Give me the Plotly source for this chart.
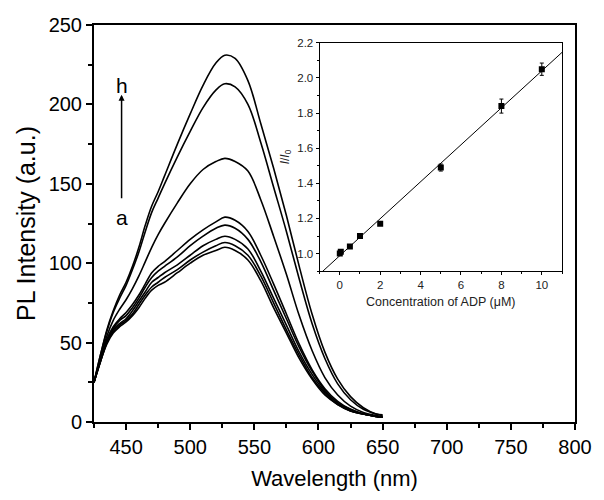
import numpy as np
import plotly.graph_objects as go

wavelength = [425, 430, 435, 440, 445, 450, 455, 460, 465, 470, 475, 480, 490, 500, 510,
              520, 527, 535, 545, 555, 565, 575, 585, 595, 605, 615, 625, 635, 645, 650]

spec_a = [25, 38, 49, 56, 60, 63, 67, 72, 78, 83, 86, 88, 94, 100, 105, 108, 110, 108, 102, 89, 72, 56, 40, 27, 17, 11, 7, 5, 3.5, 3]
spec_b = [25, 38, 50, 57, 61, 64, 68, 74, 80, 85, 88, 91, 96, 102, 107, 111, 113, 111, 105, 92, 75, 58, 42, 28, 18, 11, 7, 5, 3.5, 3]
spec_c = [25, 38, 50, 58, 62, 65, 70, 76, 82, 88, 91, 94, 99, 105, 111, 115, 117, 115, 109, 95, 78, 61, 44, 30, 19, 12, 7, 5, 3.5, 3]
spec_d = [25, 39, 51, 59, 64, 67, 72, 78, 85, 91, 95, 98, 104, 111, 117, 122, 124, 122, 115, 101, 83, 65, 47, 32, 20, 12, 8, 5, 3.5, 3]
spec_e = [25, 39, 52, 60, 65, 69, 74, 80, 87, 94, 98, 101, 108, 115, 121, 126, 129, 127, 120, 105, 87, 68, 49, 33, 21, 13, 8, 5, 3.5, 3]
spec_f = [25, 40, 54, 64, 71, 77, 84, 92, 101, 110, 118, 125, 138, 150, 159, 164, 166, 164, 158, 140, 117, 93, 67, 45, 28, 17, 10, 6, 4, 3.5]
spec_g = [25, 42, 57, 69, 78, 86, 96, 107, 120, 132, 141, 150, 167, 183, 198, 209, 213, 211, 200, 176, 148, 120, 90, 62, 40, 24, 14, 8, 5, 4]
spec_h = [25, 42, 58, 70, 80, 88, 98, 110, 124, 136, 145, 155, 175, 194, 212, 226, 231, 229, 215, 188, 160, 130, 98, 68, 44, 27, 16, 9, 5, 4.5]
spectra = [spec_a, spec_b, spec_c, spec_d, spec_e, spec_f, spec_g, spec_h]

conc = [0, 0.05, 0.5, 1, 2, 5, 8, 10]
ratio = [1.00, 1.01, 1.04, 1.10, 1.17, 1.49, 1.84, 2.05]
ratio_err = [0.01, 0.01, 0.01, 0.01, 0.01, 0.02, 0.04, 0.035]

main_xticks = [450, 500, 550, 600, 650, 700, 750, 800]
main_yticks = [0, 50, 100, 150, 200, 250]
inset_xticks = [0, 2, 4, 6, 8, 10]
inset_yticks = [1.0, 1.2, 1.4, 1.6, 1.8, 2.0, 2.2]

FONT = "Liberation Sans, Arial, sans-serif"

fig = go.Figure()
for s in spectra:
    fig.add_trace(go.Scatter(x=wavelength, y=s, mode="lines", line=dict(color="black", width=1.6, shape="spline"),
                             showlegend=False, hoverinfo="skip"))

slope, intercept = np.polyfit(conc, ratio, 1)
fit_x = [-1, 11]
fit_y = [slope * v + intercept for v in fit_x]
fig.add_trace(go.Scatter(x=fit_x, y=fit_y, mode="lines", line=dict(color="black", width=1),
                         xaxis="x2", yaxis="y2", showlegend=False))
fig.add_trace(go.Scatter(x=conc, y=ratio, mode="markers",
                         marker=dict(symbol="square", size=6, color="black"),
                         error_y=dict(type="data", array=ratio_err, color="black", thickness=1, width=2),
                         xaxis="x2", yaxis="y2", showlegend=False))

axis_common = dict(showgrid=False, zeroline=False, showline=True, linecolor="black", mirror=True,
                   ticks="outside", tickcolor="black")

fig.update_layout(
    width=604, height=500,
    margin=dict(l=94, r=24, t=25, b=78),
    paper_bgcolor="white", plot_bgcolor="white",
    font=dict(family=FONT, color="black"),
    xaxis=dict(range=[425, 800], tickvals=main_xticks, linewidth=2, ticklen=6, tickwidth=1.5,
               minor=dict(dtick=25, ticks="outside", ticklen=4, tickcolor="black", tickwidth=1.5),
               tickfont=dict(size=20),
               title=dict(text="Wavelength (nm)", font=dict(size=22), standoff=14),
               **axis_common),
    yaxis=dict(range=[0, 250], tickvals=main_yticks, linewidth=2, ticklen=6, tickwidth=1.5,
               minor=dict(dtick=25, ticks="outside", ticklen=4, tickcolor="black", tickwidth=1.5),
               tickfont=dict(size=20),
               title=dict(text="PL Intensity (a.u.)", font=dict(size=25), standoff=6),
               **axis_common),
    xaxis2=dict(domain=[0.469, 0.973], anchor="y2", range=[-1, 11], tickvals=inset_xticks,
                linewidth=1, ticklen=3, tickwidth=1,
                minor=dict(dtick=1, ticks="outside", ticklen=2, tickcolor="black"),
                tickfont=dict(size=11.5, color="#222"),
                title=dict(text="Concentration of ADP (μM)", font=dict(size=12.5, color="#222"), standoff=7),
                **axis_common),
    yaxis2=dict(domain=[0.380, 0.955], anchor="x2", range=[0.9, 2.2], tickvals=inset_yticks,
                tickformat=".1f", linewidth=1, ticklen=3, tickwidth=1,
                minor=dict(dtick=0.1, ticks="outside", ticklen=2, tickcolor="black"),
                tickfont=dict(size=11.5, color="#222"),
                title=dict(text="<i>I</i>/<i>I</i><sub>0</sub>", font=dict(size=12, color="#222"), standoff=5),
                **axis_common),
    annotations=[
        dict(x=446.5, y=212, xref="x", yref="y", text="h", showarrow=False, font=dict(size=21)),
        dict(x=446.5, y=129, xref="x", yref="y", text="a", showarrow=False, font=dict(size=21)),
        dict(x=446.5, y=206, ax=446.5, ay=140, xref="x", yref="y", axref="x", ayref="y",
             text="", showarrow=True, arrowhead=2, arrowsize=0.8, arrowwidth=1.5, arrowcolor="black"),
    ],
)

fig.write_html("out.html")
